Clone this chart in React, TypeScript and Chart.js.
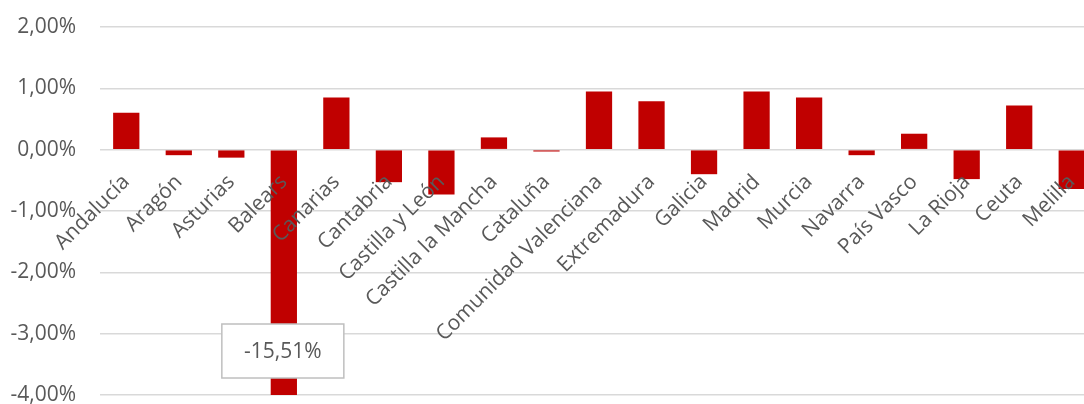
import React, { useEffect, useRef } from 'react';
import { Chart, registerables } from 'chart.js';

Chart.register(...registerables);

const categories: string[] = [
  'Andalucía', 'Aragón', 'Asturias', 'Balears', 'Canarias', 'Cantabria',
  'Castilla y León', 'Castilla la Mancha', 'Cataluña', 'Comunidad Valenciana',
  'Extremadura', 'Galicia', 'Madrid', 'Murcia', 'Navarra', 'País Vasco',
  'La Rioja', 'Ceuta', 'Melilla',
];

const values: number[] = [
  0.60, -0.09, -0.13, -15.51, 0.85, -0.53, -0.73, 0.20, -0.03, 0.95,
  0.79, -0.40, 0.95, 0.85, -0.09, 0.26, -0.48, 0.72, -0.64,
];

const yMin = -4;
const yMax = 2;
const yStep = 1;

const TEXT = '#595959';
const FONT = '"Open Sans", "Noto Sans", sans-serif';
const FONT_SIZE = 21;

const fmtPct = (v: number) => v.toFixed(2).replace('.', ',') + '%';

export default function App() {
  const ref = useRef<HTMLCanvasElement>(null);

  useEffect(() => {
    if (!ref.current) return;

    const clippedLabelPlugin = {
      id: 'clippedLabel',
      afterDraw(chart: any) {
        const meta = chart.getDatasetMeta(0);
        const { ctx, chartArea } = chart;
        values.forEach((v, i) => {
          if (v >= yMin && v <= yMax) return;
          const bar = meta.data[i];
          const text = fmtPct(v);
          const w = 122;
          const h = 54;
          const cx = bar.x - 1;
          const cy = chartArea.bottom - 44;
          ctx.save();
          ctx.fillStyle = '#FFFFFF';
          ctx.fillRect(cx - w / 2, cy - h / 2, w, h);
          ctx.strokeStyle = '#BFBFBF';
          ctx.lineWidth = 1.5;
          ctx.strokeRect(cx - w / 2, cy - h / 2, w, h);
          ctx.fillStyle = TEXT;
          ctx.font = `${FONT_SIZE}px ${FONT}`;
          ctx.textAlign = 'center';
          ctx.textBaseline = 'middle';
          ctx.fillText(text, cx, cy + 1);
          ctx.restore();
        });
      },
    };

    const chart = new Chart(ref.current, {
      type: 'bar',
      data: {
        labels: categories,
        datasets: [
          {
            data: values,
            backgroundColor: '#C00000',
            borderWidth: 0,
            barPercentage: 1,
            categoryPercentage: 0.5,
          },
        ],
      },
      options: {
        animation: false,
        responsive: true,
        maintainAspectRatio: false,
        layout: { padding: { top: 27, bottom: 9, left: 0, right: 0 } },
        plugins: {
          legend: { display: false },
          tooltip: { enabled: false },
        },
        scales: {
          x: {
            position: { y: 0 } as any,
            grid: { display: false, drawTicks: false },
            border: { display: false },
            ticks: {
              z: 1,
              autoSkip: false,
              maxRotation: 45,
              minRotation: 45,
              padding: 20,
              color: TEXT,
              font: { family: FONT, size: FONT_SIZE },
            },
            afterFit(scale: any) {
              scale.paddingLeft = 0;
              scale.paddingRight = 0;
            },
          },
          y: {
            min: yMin,
            max: yMax,
            grid: { color: '#D9D9D9', lineWidth: 1.5, drawTicks: false },
            border: { display: false },
            ticks: {
              stepSize: yStep,
              padding: 24,
              color: TEXT,
              font: { family: FONT, size: FONT_SIZE },
              callback: (v: any) => fmtPct(Number(v)),
            },
            afterFit(scale: any) {
              scale.width = 100;
              scale.paddingTop = 0;
              scale.paddingBottom = 0;
            },
          },
        },
      },
      plugins: [clippedLabelPlugin],
    });

    return () => chart.destroy();
  }, []);

  return (
    <div
      style={{
        position: 'fixed',
        top: 0,
        left: 0,
        width: 1084,
        height: 404,
        overflow: 'hidden',
        background: '#FFFFFF',
      }}
    >
      <div style={{ position: 'relative', width: 1098, height: 404 }}>
        <canvas ref={ref} />
      </div>
    </div>
  );
}
